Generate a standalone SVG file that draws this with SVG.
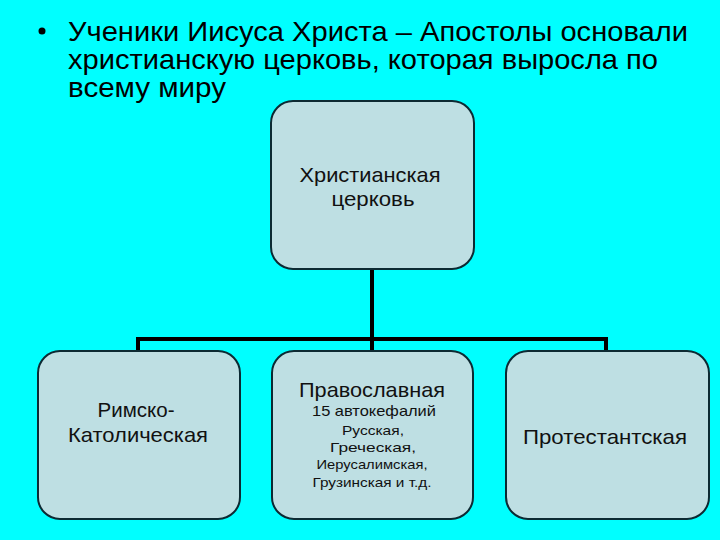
<svg xmlns="http://www.w3.org/2000/svg" width="720" height="540" viewBox="0 0 720 540">
<style>
.box{fill:#BEDFE3;stroke:#0c2a33;stroke-width:2}
.t{font-family:"Liberation Sans",Arial,sans-serif;fill:#111;text-anchor:middle}
.h{font-family:"Liberation Sans",Arial,sans-serif;fill:#000;font-size:28px}
.c{fill:none;stroke:#000;stroke-width:4}
</style>
<rect width="720" height="540" fill="#00FFFF"/>
<g id="title">
<circle cx="42" cy="31" r="3.5" fill="#000"/>
<text class="h" x="68" y="41" textLength="620" lengthAdjust="spacingAndGlyphs">Ученики Иисуса Христа – Апостолы основали</text>
<text class="h" x="68" y="69" textLength="590" lengthAdjust="spacingAndGlyphs">христианскую церковь, которая выросла по</text>
<text class="h" x="68" y="97" textLength="158" lengthAdjust="spacingAndGlyphs">всему миру</text>
</g>
<g id="connectors">
<path class="c" d="M372 269 V339 M136 339 H608 M138 339 V351 M606 339 V351 M372 339 V351"/>
</g>
<g id="root">
<rect class="box" x="271" y="101" width="203" height="168" rx="22"/>
<text class="t" x="370" y="182" font-size="21" textLength="141" lengthAdjust="spacingAndGlyphs">Христианская</text>
<text class="t" x="373" y="206" font-size="21" textLength="83" lengthAdjust="spacingAndGlyphs">церковь</text>
</g>
<g id="catholic">
<rect class="box" x="38" y="351" width="202" height="168" rx="22"/>
<text class="t" x="136" y="417" font-size="21" textLength="77" lengthAdjust="spacingAndGlyphs">Римско-</text>
<text class="t" x="138" y="442" font-size="21" textLength="140" lengthAdjust="spacingAndGlyphs">Католическая</text>
</g>
<g id="orthodox">
<rect class="box" x="272" y="351" width="201" height="168" rx="22"/>
<text class="t" x="372" y="397" font-size="21" textLength="146" lengthAdjust="spacingAndGlyphs">Православная</text>
<text class="t" x="374" y="416" font-size="15" textLength="124" lengthAdjust="spacingAndGlyphs">15 автокефалий</text>
<text class="t" x="373" y="435" font-size="13" textLength="62" lengthAdjust="spacingAndGlyphs">Русская,</text>
<text class="t" x="373" y="452" font-size="13" textLength="86" lengthAdjust="spacingAndGlyphs">Греческая,</text>
<text class="t" x="372" y="469" font-size="13" textLength="111" lengthAdjust="spacingAndGlyphs">Иерусалимская,</text>
<text class="t" x="372" y="487" font-size="13" textLength="119" lengthAdjust="spacingAndGlyphs">Грузинская и т.д.</text>
</g>
<g id="protestant">
<rect class="box" x="506" y="351" width="203" height="168" rx="22"/>
<text class="t" x="605" y="444" font-size="21" textLength="164" lengthAdjust="spacingAndGlyphs">Протестантская</text>
</g>
</svg>
